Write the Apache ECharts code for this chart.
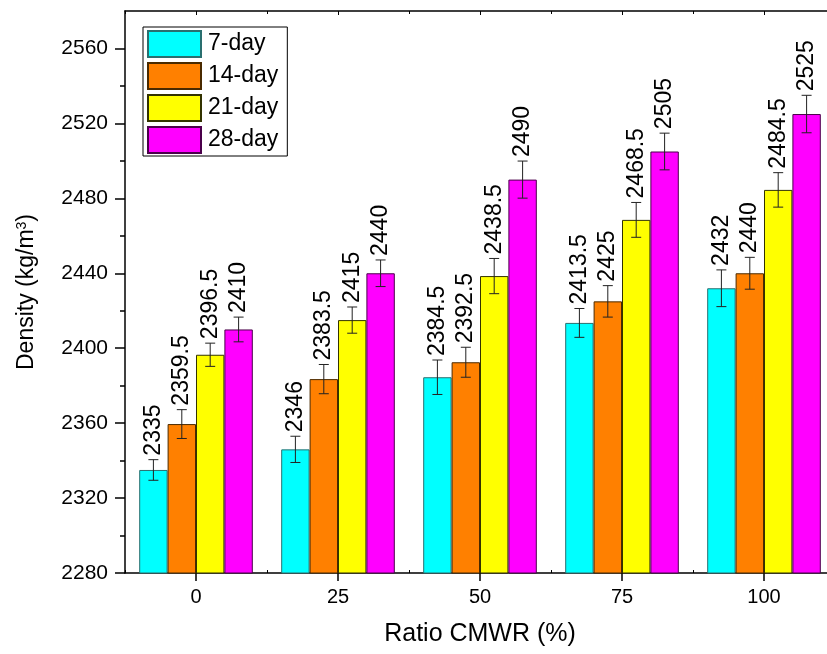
<!DOCTYPE html>
<html>
<head>
<meta charset="utf-8">
<script src="https://cdn.jsdelivr.net/npm/echarts@6/dist/echarts.min.js"></script>
<style>
  html, body { margin: 0; padding: 0; background: #fff; overflow: hidden; }
  #chart { width: 827px; height: 654px; }
</style>
</head>
<body>
<div id="chart"></div>
<script>
// Density of mixes by CMWR replacement ratio and curing age
const categories = ['0', '25', '50', '75', '100'];
const seriesNames = ['7-day', '14-day', '21-day', '28-day'];

const day7  = [2335, 2346, 2384.5, 2413.5, 2432];
const day14 = [2359.5, 2383.5, 2392.5, 2425, 2440];
const day21 = [2396.5, 2415, 2438.5, 2468.5, 2484.5];
const day28 = [2410, 2440, 2490, 2505, 2525];

// Standard deviation (error bar half-length)
const err7  = [5.5, 7, 9.2, 7.7, 9.8];
const err14 = [7.7, 7.8, 8, 8.4, 8.5];
const err21 = [6.2, 7, 9.4, 9.3, 9.2];
const err28 = [6.6, 7.1, 9.9, 9.8, 10];

const yMajorTicks = [2280, 2320, 2360, 2400, 2440, 2480, 2520, 2560];
const yMinorTicks = [2300, 2340, 2380, 2420, 2460, 2500, 2540];

const fillColors   = ['#00FFFF', '#FF8000', '#FFFF00', '#FF00FF'];
const borderColors = ['#2a6f6f', '#4a2a00', '#333300', '#4a004a'];

const FONT = 'Liberation Sans, Arial, sans-serif';
const values = [day7, day14, day21, day28];
const errors = [err7, err14, err21, err28];
const BAR_FRACTION = 0.8; // matches barCategoryGap 20%

const chart = echarts.init(document.getElementById('chart'), null, { renderer: 'canvas' });

function barSeries(k) {
  return {
    type: 'bar',
    name: seriesNames[k],
    data: values[k],
    xAxisIndex: 0,
    yAxisIndex: 0,
    barGap: '0%',
    barCategoryGap: '20%',
    itemStyle: { color: fillColors[k], borderColor: borderColors[k], borderWidth: 1 },
    emphasis: { disabled: true },
    z: 2
  };
}

function errorSeries(k) {
  const n = values.length;
  return {
    type: 'custom',
    xAxisIndex: 0,
    yAxisIndex: 0,
    data: values[k].map((v, i) => [i, v, errors[k][i]]),
    encode: { x: 0, y: 1 },
    z: 5,
    silent: true,
    renderItem: function (params, api) {
      const i = api.value(0);
      const v = api.value(1);
      const e = api.value(2);
      const band = api.size([1, 0])[0];
      const bw = band * BAR_FRACTION / n;
      const cx = api.coord([i, v])[0] + (k - (n - 1) / 2) * bw;
      const yTop = api.coord([i, v + e])[1];
      const yBot = api.coord([i, v - e])[1];
      const cap = 5;
      const ls = { stroke: '#222', lineWidth: 1 };
      return {
        type: 'group',
        children: [
          { type: 'line', shape: { x1: cx, y1: yTop, x2: cx, y2: yBot }, style: ls },
          { type: 'line', shape: { x1: cx - cap, y1: yTop, x2: cx + cap, y2: yTop }, style: ls },
          { type: 'line', shape: { x1: cx - cap, y1: yBot, x2: cx + cap, y2: yBot }, style: ls },
          {
            type: 'text',
            x: cx,
            y: yTop - 4,
            rotation: Math.PI / 2,
            style: {
              text: String(v),
              fill: '#000',
              font: '23px ' + FONT,
              align: 'left',
              verticalAlign: 'middle'
            }
          }
        ]
      };
    }
  };
}

function frameLine() {
  return { show: true, lineStyle: { color: '#000', width: 1.5 } };
}

const option = {
  animation: false,
  backgroundColor: '#fff',
  textStyle: { fontFamily: FONT },
  // the plot area runs a few pixels past the right edge of the canvas
  grid: { left: 125, width: 710, top: 11, bottom: 81, containLabel: false, outerBoundsMode: 'none' },
  // keep the clipped right side of the frame open
  graphic: [{
    type: 'rect',
    right: 0,
    top: 13,
    shape: { width: 4, height: 558 },
    style: { fill: '#fff' },
    z: 100,
    silent: true
  }],
  legend: {
    data: seriesNames,
    orient: 'vertical',
    left: 143,
    top: 27,
    icon: 'rect',
    itemWidth: 53,
    itemHeight: 26,
    itemGap: 4,
    padding: [3, 9, 2, 4],
    borderColor: '#000',
    borderWidth: 1,
    selectedMode: false,
    textStyle: { fontSize: 23, color: '#000', fontFamily: FONT, padding: [0, 0, 0, 2], lineHeight: 26 }
  },
  xAxis: [
    {
      type: 'category',
      data: categories,
      position: 'bottom',
      boundaryGap: true,
      axisLine: frameLine(),
      axisTick: { show: true, alignWithLabel: true, inside: false, length: 8, lineStyle: { color: '#000', width: 1.5 } },
      axisLabel: { color: '#000', fontSize: 20, fontFamily: FONT, margin: 14 },
      splitLine: { show: false },
      name: 'Ratio CMWR (%)',
      nameLocation: 'middle',
      nameGap: 49,
      nameTextStyle: { color: '#000', fontSize: 25, fontFamily: FONT }
    },
    {
      type: 'category',
      data: categories,
      position: 'bottom',
      boundaryGap: true,
      axisLine: { show: false },
      axisTick: { show: true, inside: true, length: 3, lineStyle: { color: '#000', width: 1 } },
      axisLabel: { show: false },
      splitLine: { show: false }
    },
    {
      type: 'category',
      data: categories,
      position: 'top',
      boundaryGap: true,
      axisLine: frameLine(),
      axisTick: { show: true, alignWithLabel: true, inside: true, length: 4, lineStyle: { color: '#000', width: 1 } },
      axisLabel: { show: false },
      splitLine: { show: false }
    },
    {
      type: 'category',
      data: categories,
      position: 'top',
      boundaryGap: true,
      axisLine: { show: false },
      axisTick: { show: true, inside: true, length: 3, lineStyle: { color: '#000', width: 1 } },
      axisLabel: { show: false },
      splitLine: { show: false }
    }
  ],
  yAxis: [
    {
      type: 'value',
      min: 2280,
      max: 2580,
      interval: 40,
      position: 'left',
      axisLine: frameLine(),
      axisTick: { show: true, inside: false, length: 10, customValues: yMajorTicks, lineStyle: { color: '#000', width: 1.5 } },
      axisLabel: {
        color: '#000', fontSize: 21, fontFamily: FONT, margin: 17, customValues: yMajorTicks,
        formatter: function (val) { return String(val); }
      },
      splitLine: { show: false },
      name: 'Density (kg/m{sup|3})',
      nameLocation: 'middle',
      nameGap: 86,
      nameTextStyle: {
        color: '#000',
        fontSize: 23,
        fontFamily: FONT,
        rich: { sup: { fontSize: 14, verticalAlign: 'top', color: '#000', fontFamily: FONT, padding: [0, 0, 10, 0] } }
      }
    },
    {
      type: 'value',
      min: 2280,
      max: 2580,
      interval: 40,
      position: 'left',
      axisLine: { show: false },
      axisTick: { show: true, inside: false, length: 5, customValues: yMinorTicks, lineStyle: { color: '#000', width: 1.5 } },
      axisLabel: { show: false },
      splitLine: { show: false }
    }
  ],
  series: [0, 1, 2, 3].map(barSeries).concat([0, 1, 2, 3].map(errorSeries))
};

chart.setOption(option);
</script>
</body>
</html>
